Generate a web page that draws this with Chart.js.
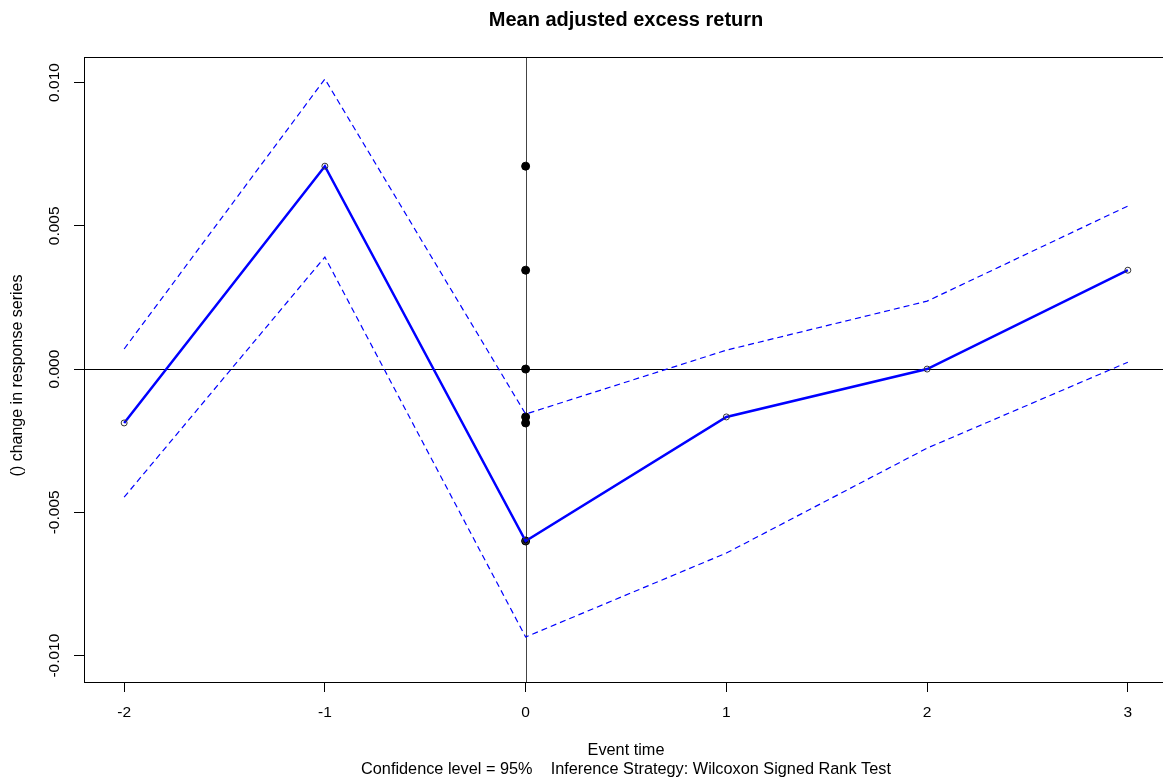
<!DOCTYPE html>
<html>
<head>
<meta charset="utf-8">
<script src="https://cdn.jsdelivr.net/npm/chart.js@4"></script>
<style>
  html, body { margin: 0; padding: 0; background: #fff; overflow: hidden; }
</style>
</head>
<body>
<canvas id="grafico" width="1173" height="783"></canvas>
<script>
// ── datos ──
const eventTime = [-2, -1, 0, 1, 2, 3];
const meanValues = [-0.00188, 0.00708, -0.0060, -0.00167, 0.0, 0.00345];
const upperCI = [0.00070, 0.01012, -0.00157, 0.00066, 0.00237, 0.00569];
const lowerCI = [-0.00447, 0.00391, -0.00935, -0.00642, -0.00276, 0.00024];
const xTicks = [-2, -1, 0, 1, 2, 3];
const yTicks = [-0.010, -0.005, 0.000, 0.005, 0.010];

const FONT = '"Liberation Sans", Arial, sans-serif';

const toPoints = (xs, ys) => xs.map((x, i) => ({ x: x, y: ys[i] }));

// líneas de referencia, caja y textos al estilo R
const rStyle = {
    id: 'rStyle',
    beforeDatasetsDraw(chart) {
        const { ctx, chartArea: a, scales: { x, y } } = chart;
        const x0 = Math.round(x.getPixelForValue(0)) + 0.5;
        const y0 = Math.round(y.getPixelForValue(0)) + 0.5;
        ctx.save();
        ctx.lineWidth = 1;
        ctx.strokeStyle = '#444';
        ctx.beginPath();
        ctx.moveTo(x0, a.top);
        ctx.lineTo(x0, a.bottom);
        ctx.stroke();
        ctx.strokeStyle = '#000';
        ctx.beginPath();
        ctx.moveTo(a.left, y0);
        ctx.lineTo(a.right, y0);
        ctx.stroke();
        ctx.restore();
    },
    afterDraw(chart) {
        const { ctx, chartArea: a } = chart;
        const cx = (a.left + a.right) / 2;
        ctx.save();
        ctx.strokeStyle = '#000';
        ctx.lineWidth = 1;
        ctx.strokeRect(Math.round(a.left) + 0.5, Math.round(a.top) + 0.5,
            Math.round(a.right - a.left), Math.round(a.bottom - a.top));

        ctx.fillStyle = '#000';
        ctx.textAlign = 'center';
        ctx.textBaseline = 'middle';
        ctx.font = 'bold 20px ' + FONT;
        ctx.fillText('Mean adjusted excess return', cx, 20);

        ctx.font = '16.3px ' + FONT;
        ctx.fillText('Event time', cx, 751);
        ctx.fillText('Confidence level = 95%    Inference Strategy: Wilcoxon Signed Rank Test', cx, 770);

        ctx.font = '16px ' + FONT;
        ctx.translate(18, (a.top + a.bottom) / 2 + 6);
        ctx.rotate(-Math.PI / 2);
        ctx.fillText('() change in response series', 0, 0);
        ctx.restore();
    }
};

new Chart(document.getElementById('grafico').getContext('2d'), {
    type: 'line',
    data: {
        datasets: [
            {
                label: 'upper',
                data: toPoints(eventTime, upperCI),
                borderColor: '#0000ff',
                borderWidth: 1.2,
                borderDash: [6, 4],
                pointRadius: 0
            },
            {
                label: 'lower',
                data: toPoints(eventTime, lowerCI),
                borderColor: '#0000ff',
                borderWidth: 1.2,
                borderDash: [6, 4],
                pointRadius: 0
            },
            {
                label: 'mean',
                data: toPoints(eventTime, meanValues),
                borderColor: '#0000ff',
                borderWidth: 2.5,
                pointRadius: 3,
                pointBorderWidth: 1,
                pointBorderColor: '#333',
                pointBackgroundColor: 'rgba(0,0,0,0)'
            },
            {
                type: 'scatter',
                label: 'at zero',
                data: meanValues.map(v => ({ x: 0, y: v })),
                pointRadius: 4,
                pointBackgroundColor: '#000',
                pointBorderColor: '#000',
                showLine: false
            }
        ]
    },
    options: {
        responsive: false,
        animation: false,
        layout: { padding: { left: 0, top: 57, right: 2, bottom: 0 } },
        plugins: {
            legend: { display: false },
            title: { display: false },
            tooltip: { enabled: false }
        },
        scales: {
            x: {
                type: 'linear',
                min: -2.2,
                max: 3.2,
                afterBuildTicks: s => { s.ticks = xTicks.map(v => ({ value: v })); },
                afterFit: s => { s.height = 101; },
                border: { display: false },
                grid: { drawOnChartArea: false, drawTicks: true, tickLength: 10, color: '#000' },
                ticks: {
                    padding: 11,
                    color: '#000',
                    font: { family: FONT, size: 15.5 },
                    maxRotation: 0,
                    callback: v => String(v)
                }
            },
            y: {
                type: 'linear',
                min: -0.01092,
                max: 0.01089,
                afterBuildTicks: s => { s.ticks = yTicks.map(v => ({ value: v })); },
                afterFit: s => { s.width = 84; },
                border: { display: false },
                grid: { drawOnChartArea: false, drawTicks: true, tickLength: 10, color: '#000' },
                ticks: {
                    padding: -3,
                    color: '#000',
                    crossAlign: 'center',
                    minRotation: 90,
                    maxRotation: 90,
                    font: { family: FONT, size: 15.5 },
                    callback: v => v.toFixed(3)
                }
            }
        }
    },
    plugins: [rStyle]
});
</script>
</body>
</html>
